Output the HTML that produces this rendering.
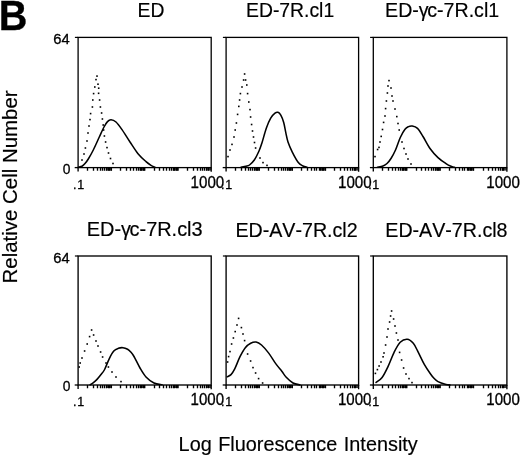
<!DOCTYPE html><html><head><meta charset="utf-8"><title>Figure B</title>
<style>html,body{margin:0;padding:0;background:#fff}svg{display:block}text{font-family:"Liberation Sans",sans-serif;fill:#000;stroke:#000;stroke-width:0.3px}.big{stroke-width:0.18px}</style></head><body>
<svg width="520" height="457" viewBox="0 0 520 457">
<rect width="520" height="457" fill="#fff"/>
<text x="-1.2" y="30.4" font-size="41.6" font-weight="bold" fill="#000" stroke="#000" stroke-width="0.25" textLength="28.6" lengthAdjust="spacingAndGlyphs">B</text>
<text transform="translate(17,283.5) rotate(-90) scale(1.0226,1)" font-size="20" class="big">Relative Cell Number</text>
<text transform="translate(178.60,451.00) scale(0.9455,1)" font-size="21.00" class="big" word-spacing="1.05">Log Fluorescence Intensity</text>
<text transform="translate(137.50,17.40) scale(0.9310,1)" font-size="20.80" class="big" style="font-kerning:none">ED</text>
<text transform="translate(246.00,17.40) scale(0.9310,1)" font-size="20.80" class="big" style="font-kerning:none">ED-7R.cl1</text>
<text transform="translate(385.10,17.40) scale(0.9430,1)" font-size="20.80" class="big" style="font-kerning:none">ED-γ<tspan dx="-1.5">c-7R.cl1</tspan></text>
<text transform="translate(86.70,235.90) scale(0.9590,1)" font-size="20.80" class="big" style="font-kerning:none">ED-γ<tspan dx="-1.5">c-7R.cl3</tspan></text>
<text transform="translate(235.40,236.50) scale(0.9450,1)" font-size="20.80" class="big" style="font-kerning:none">ED-AV-7R.cl2</text>
<text transform="translate(385.30,236.50) scale(0.9450,1)" font-size="20.80" class="big" style="font-kerning:none">ED-AV-7R.cl8</text>
<g stroke="#000" fill="none">
<rect x="78.10" y="37.40" width="133.10" height="130.20" stroke-width="1.30"/>
<rect x="106.30" y="167.60" width="5.58" height="3.0" fill="#000" stroke="none" opacity="0.75"/>
<rect x="139.57" y="167.60" width="5.58" height="3.0" fill="#000" stroke="none" opacity="0.75"/>
<rect x="172.85" y="167.60" width="5.58" height="3.0" fill="#000" stroke="none" opacity="0.75"/>
<rect x="206.12" y="167.60" width="5.08" height="3.0" fill="#000" stroke="none" opacity="0.75"/>
<path d="M78.10 167.60 v4.0M87.50 167.60 v3.2M93.50 167.60 v3.2M97.50 167.60 v3.2M100.50 167.60 v3.2M102.50 167.60 v3.2M104.50 167.60 v3.2M106.50 167.60 v3.2M108.50 167.60 v3.2M109.50 167.60 v3.2M111.38 167.60 v3.2M120.50 167.60 v3.2M126.50 167.60 v3.2M130.50 167.60 v3.2M133.50 167.60 v3.2M136.50 167.60 v3.2M138.50 167.60 v3.2M140.50 167.60 v3.2M141.50 167.60 v3.2M143.50 167.60 v3.2M144.65 167.60 v3.2M154.50 167.60 v3.2M159.50 167.60 v3.2M163.50 167.60 v3.2M166.50 167.60 v3.2M169.50 167.60 v3.2M171.50 167.60 v3.2M173.50 167.60 v3.2M174.50 167.60 v3.2M176.50 167.60 v3.2M177.92 167.60 v3.2M187.50 167.60 v3.2M193.50 167.60 v3.2M197.50 167.60 v3.2M200.50 167.60 v3.2M202.50 167.60 v3.2M204.50 167.60 v3.2M206.50 167.60 v3.2M208.50 167.60 v3.2M211.20 167.60 v4.2" stroke-width="1.35"/>
<path d="M78.10 167.60 h-3.4" stroke-width="1.3"/>
<path d="M78.10 37.40 h-3.2" stroke-width="1.2"/>
<path d="M78.50 167.20 C79.08 167.05 80.92 166.90 82.00 166.30 C83.08 165.70 83.95 164.82 85.00 163.60 C86.05 162.38 86.92 161.27 88.30 159.00 C89.68 156.73 91.47 153.67 93.30 150.00 C95.13 146.33 97.52 140.83 99.30 137.00 C101.08 133.17 102.63 129.57 104.00 127.00 C105.37 124.43 106.33 122.82 107.50 121.60 C108.67 120.38 109.58 119.63 111.00 119.70 C112.42 119.77 114.17 120.35 116.00 122.00 C117.83 123.65 119.67 126.27 122.00 129.60 C124.33 132.93 127.33 137.98 130.00 142.00 C132.67 146.02 135.33 150.43 138.00 153.70 C140.67 156.97 143.83 159.67 146.00 161.60 C148.17 163.53 149.50 164.37 151.00 165.30 C152.50 166.23 154.33 166.88 155.00 167.20" stroke-width="1.55" stroke-linejoin="round" stroke-linecap="round"/>
</g>
<g fill="#000"><rect x="96.20" y="75.30" width="1.6" height="1.6"/><rect x="95.20" y="78.80" width="1.6" height="1.6"/><rect x="94.00" y="86.20" width="1.6" height="1.6"/><rect x="92.80" y="92.80" width="1.6" height="1.6"/><rect x="92.00" y="99.20" width="1.6" height="1.6"/><rect x="91.60" y="106.20" width="1.6" height="1.6"/><rect x="89.80" y="112.80" width="1.6" height="1.6"/><rect x="89.20" y="118.80" width="1.6" height="1.6"/><rect x="88.20" y="125.20" width="1.6" height="1.6"/><rect x="87.20" y="132.20" width="1.6" height="1.6"/><rect x="86.20" y="140.20" width="1.6" height="1.6"/><rect x="84.60" y="147.20" width="1.6" height="1.6"/><rect x="83.20" y="153.20" width="1.6" height="1.6"/><rect x="81.20" y="159.20" width="1.6" height="1.6"/><rect x="97.20" y="83.40" width="1.6" height="1.6"/><rect x="97.90" y="87.40" width="1.6" height="1.6"/><rect x="97.80" y="92.50" width="1.6" height="1.6"/><rect x="98.80" y="99.20" width="1.6" height="1.6"/><rect x="99.60" y="106.20" width="1.6" height="1.6"/><rect x="100.80" y="112.20" width="1.6" height="1.6"/><rect x="101.60" y="118.20" width="1.6" height="1.6"/><rect x="102.40" y="124.20" width="1.6" height="1.6"/><rect x="102.80" y="129.20" width="1.6" height="1.6"/><rect x="103.60" y="135.20" width="1.6" height="1.6"/><rect x="104.80" y="141.20" width="1.6" height="1.6"/><rect x="106.20" y="146.80" width="1.6" height="1.6"/><rect x="107.70" y="152.20" width="1.6" height="1.6"/><rect x="109.70" y="157.70" width="1.6" height="1.6"/><rect x="112.20" y="162.70" width="1.6" height="1.6"/></g>
<text transform="translate(73.10,188.80) scale(1.0000,1)" font-size="12.50" letter-spacing="0.6">.1</text>
<text transform="translate(190.60,188.10) scale(0.9450,1)" font-size="16.00">1000</text>
<text transform="translate(53.30,44.10) scale(0.9600,1)" font-size="15.40">64</text>
<text transform="translate(62.70,173.60) scale(0.9300,1)" font-size="14.90">0</text>
<g stroke="#000" fill="none">
<rect x="226.10" y="37.40" width="132.50" height="130.20" stroke-width="1.30"/>
<rect x="254.17" y="167.60" width="5.56" height="3.0" fill="#000" stroke="none" opacity="0.75"/>
<rect x="287.29" y="167.60" width="5.56" height="3.0" fill="#000" stroke="none" opacity="0.75"/>
<rect x="320.42" y="167.60" width="5.56" height="3.0" fill="#000" stroke="none" opacity="0.75"/>
<rect x="353.54" y="167.60" width="5.06" height="3.0" fill="#000" stroke="none" opacity="0.75"/>
<path d="M226.10 167.60 v4.0M235.50 167.60 v3.2M241.50 167.60 v3.2M245.50 167.60 v3.2M248.50 167.60 v3.2M250.50 167.60 v3.2M252.50 167.60 v3.2M254.50 167.60 v3.2M256.50 167.60 v3.2M257.50 167.60 v3.2M259.23 167.60 v3.2M268.50 167.60 v3.2M274.50 167.60 v3.2M278.50 167.60 v3.2M281.50 167.60 v3.2M283.50 167.60 v3.2M285.50 167.60 v3.2M287.50 167.60 v3.2M289.50 167.60 v3.2M290.50 167.60 v3.2M292.35 167.60 v3.2M301.50 167.60 v3.2M307.50 167.60 v3.2M311.50 167.60 v3.2M314.50 167.60 v3.2M316.50 167.60 v3.2M319.50 167.60 v3.2M320.50 167.60 v3.2M322.50 167.60 v3.2M323.50 167.60 v3.2M325.48 167.60 v3.2M334.50 167.60 v3.2M340.50 167.60 v3.2M344.50 167.60 v3.2M347.50 167.60 v3.2M350.50 167.60 v3.2M352.50 167.60 v3.2M354.50 167.60 v3.2M355.50 167.60 v3.2M358.60 167.60 v4.2" stroke-width="1.35"/>
<path d="M226.10 167.60 h-3.4" stroke-width="1.3"/>
<path d="M226.10 37.40 h-3.2" stroke-width="1.2"/>
<path d="M241.00 167.20 C241.83 167.05 244.58 166.67 246.00 166.30 C247.42 165.93 248.12 166.05 249.50 165.00 C250.88 163.95 252.72 162.33 254.30 160.00 C255.88 157.67 257.72 153.88 259.00 151.00 C260.28 148.12 260.78 146.50 262.00 142.70 C263.22 138.90 264.85 132.30 266.30 128.20 C267.75 124.10 269.25 120.60 270.70 118.10 C272.15 115.60 273.80 114.17 275.00 113.20 C276.20 112.23 276.93 111.97 277.90 112.30 C278.87 112.63 279.83 113.50 280.80 115.20 C281.77 116.90 282.87 119.60 283.70 122.50 C284.53 125.40 285.08 129.35 285.80 132.60 C286.52 135.85 286.92 138.75 288.00 142.00 C289.08 145.25 290.62 148.73 292.30 152.10 C293.98 155.47 296.32 159.88 298.10 162.20 C299.88 164.52 301.52 165.15 303.00 166.00 C304.48 166.85 306.33 167.08 307.00 167.30" stroke-width="1.55" stroke-linejoin="round" stroke-linecap="round"/>
</g>
<g fill="#000"><rect x="243.80" y="73.20" width="1.6" height="1.6"/><rect x="242.80" y="79.20" width="1.6" height="1.6"/><rect x="241.20" y="86.20" width="1.6" height="1.6"/><rect x="239.60" y="92.80" width="1.6" height="1.6"/><rect x="238.80" y="99.20" width="1.6" height="1.6"/><rect x="238.00" y="105.60" width="1.6" height="1.6"/><rect x="236.80" y="113.60" width="1.6" height="1.6"/><rect x="235.60" y="122.20" width="1.6" height="1.6"/><rect x="234.40" y="129.20" width="1.6" height="1.6"/><rect x="233.20" y="136.20" width="1.6" height="1.6"/><rect x="231.20" y="143.60" width="1.6" height="1.6"/><rect x="229.20" y="149.20" width="1.6" height="1.6"/><rect x="227.20" y="155.80" width="1.6" height="1.6"/><rect x="244.80" y="79.20" width="1.6" height="1.6"/><rect x="246.00" y="84.20" width="1.6" height="1.6"/><rect x="246.80" y="92.80" width="1.6" height="1.6"/><rect x="248.00" y="101.20" width="1.6" height="1.6"/><rect x="249.20" y="108.80" width="1.6" height="1.6"/><rect x="249.80" y="116.20" width="1.6" height="1.6"/><rect x="250.80" y="123.70" width="1.6" height="1.6"/><rect x="251.70" y="130.20" width="1.6" height="1.6"/><rect x="252.70" y="136.20" width="1.6" height="1.6"/><rect x="253.70" y="141.70" width="1.6" height="1.6"/><rect x="254.80" y="147.20" width="1.6" height="1.6"/><rect x="259.20" y="157.20" width="1.6" height="1.6"/><rect x="262.20" y="161.80" width="1.6" height="1.6"/><rect x="266.20" y="164.60" width="1.6" height="1.6"/></g>
<text transform="translate(221.10,188.80) scale(1.0000,1)" font-size="12.50" letter-spacing="0.6">.1</text>
<text transform="translate(338.00,188.10) scale(0.9450,1)" font-size="16.00">1000</text>
<g stroke="#000" fill="none">
<rect x="373.30" y="37.40" width="133.60" height="130.20" stroke-width="1.30"/>
<rect x="401.61" y="167.60" width="5.59" height="3.0" fill="#000" stroke="none" opacity="0.75"/>
<rect x="435.01" y="167.60" width="5.59" height="3.0" fill="#000" stroke="none" opacity="0.75"/>
<rect x="468.41" y="167.60" width="5.59" height="3.0" fill="#000" stroke="none" opacity="0.75"/>
<rect x="501.81" y="167.60" width="5.09" height="3.0" fill="#000" stroke="none" opacity="0.75"/>
<path d="M373.30 167.60 v4.0M382.50 167.60 v3.2M388.50 167.60 v3.2M392.50 167.60 v3.2M395.50 167.60 v3.2M398.50 167.60 v3.2M400.50 167.60 v3.2M402.50 167.60 v3.2M403.50 167.60 v3.2M405.50 167.60 v3.2M406.70 167.60 v3.2M416.50 167.60 v3.2M421.50 167.60 v3.2M425.50 167.60 v3.2M428.50 167.60 v3.2M431.50 167.60 v3.2M433.50 167.60 v3.2M435.50 167.60 v3.2M437.50 167.60 v3.2M438.50 167.60 v3.2M440.10 167.60 v3.2M449.50 167.60 v3.2M455.50 167.60 v3.2M459.50 167.60 v3.2M462.50 167.60 v3.2M464.50 167.60 v3.2M467.50 167.60 v3.2M468.50 167.60 v3.2M470.50 167.60 v3.2M471.50 167.60 v3.2M473.50 167.60 v3.2M483.50 167.60 v3.2M488.50 167.60 v3.2M492.50 167.60 v3.2M495.50 167.60 v3.2M498.50 167.60 v3.2M500.50 167.60 v3.2M502.50 167.60 v3.2M503.50 167.60 v3.2M506.90 167.60 v4.2" stroke-width="1.35"/>
<path d="M373.30 167.60 h-3.4" stroke-width="1.3"/>
<path d="M373.30 37.40 h-3.2" stroke-width="1.2"/>
<path d="M377.50 167.20 C378.42 167.00 381.42 166.62 383.00 166.00 C384.58 165.38 385.67 164.75 387.00 163.50 C388.33 162.25 389.58 160.75 391.00 158.50 C392.42 156.25 393.95 153.50 395.50 150.00 C397.05 146.50 398.72 140.95 400.30 137.50 C401.88 134.05 403.63 131.12 405.00 129.30 C406.37 127.48 407.33 127.15 408.50 126.60 C409.67 126.05 410.50 125.70 412.00 126.00 C413.50 126.30 415.67 126.65 417.50 128.40 C419.33 130.15 420.92 133.15 423.00 136.50 C425.08 139.85 427.50 144.98 430.00 148.50 C432.50 152.02 435.33 155.08 438.00 157.60 C440.67 160.12 443.83 162.15 446.00 163.60 C448.17 165.05 449.58 165.68 451.00 166.30 C452.42 166.92 453.92 167.13 454.50 167.30" stroke-width="1.55" stroke-linejoin="round" stroke-linecap="round"/>
</g>
<g fill="#000"><rect x="388.20" y="79.80" width="1.6" height="1.6"/><rect x="387.20" y="85.20" width="1.6" height="1.6"/><rect x="386.60" y="92.20" width="1.6" height="1.6"/><rect x="385.60" y="100.20" width="1.6" height="1.6"/><rect x="384.80" y="107.80" width="1.6" height="1.6"/><rect x="384.20" y="115.20" width="1.6" height="1.6"/><rect x="382.80" y="121.60" width="1.6" height="1.6"/><rect x="381.70" y="128.70" width="1.6" height="1.6"/><rect x="380.40" y="135.60" width="1.6" height="1.6"/><rect x="379.20" y="141.20" width="1.6" height="1.6"/><rect x="378.20" y="146.60" width="1.6" height="1.6"/><rect x="376.80" y="148.70" width="1.6" height="1.6"/><rect x="374.20" y="155.80" width="1.6" height="1.6"/><rect x="390.20" y="87.20" width="1.6" height="1.6"/><rect x="391.20" y="95.20" width="1.6" height="1.6"/><rect x="392.20" y="100.20" width="1.6" height="1.6"/><rect x="394.20" y="108.20" width="1.6" height="1.6"/><rect x="396.00" y="115.80" width="1.6" height="1.6"/><rect x="397.20" y="122.70" width="1.6" height="1.6"/><rect x="398.40" y="129.20" width="1.6" height="1.6"/><rect x="401.20" y="141.20" width="1.6" height="1.6"/><rect x="403.20" y="147.70" width="1.6" height="1.6"/><rect x="405.20" y="153.20" width="1.6" height="1.6"/><rect x="407.20" y="158.20" width="1.6" height="1.6"/><rect x="410.20" y="163.20" width="1.6" height="1.6"/></g>
<text transform="translate(368.30,188.80) scale(1.0000,1)" font-size="12.50" letter-spacing="0.6">.1</text>
<text transform="translate(486.30,188.10) scale(0.9450,1)" font-size="16.00">1000</text>
<g stroke="#000" fill="none">
<rect x="78.10" y="256.00" width="133.10" height="129.00" stroke-width="1.35"/>
<rect x="106.30" y="385.00" width="5.58" height="3.0" fill="#000" stroke="none" opacity="0.75"/>
<rect x="139.57" y="385.00" width="5.58" height="3.0" fill="#000" stroke="none" opacity="0.75"/>
<rect x="172.85" y="385.00" width="5.58" height="3.0" fill="#000" stroke="none" opacity="0.75"/>
<rect x="206.12" y="385.00" width="5.08" height="3.0" fill="#000" stroke="none" opacity="0.75"/>
<path d="M78.10 385.00 v4.0M87.50 385.00 v3.2M93.50 385.00 v3.2M97.50 385.00 v3.2M100.50 385.00 v3.2M102.50 385.00 v3.2M104.50 385.00 v3.2M106.50 385.00 v3.2M108.50 385.00 v3.2M109.50 385.00 v3.2M111.38 385.00 v3.2M120.50 385.00 v3.2M126.50 385.00 v3.2M130.50 385.00 v3.2M133.50 385.00 v3.2M136.50 385.00 v3.2M138.50 385.00 v3.2M140.50 385.00 v3.2M141.50 385.00 v3.2M143.50 385.00 v3.2M144.65 385.00 v3.2M154.50 385.00 v3.2M159.50 385.00 v3.2M163.50 385.00 v3.2M166.50 385.00 v3.2M169.50 385.00 v3.2M171.50 385.00 v3.2M173.50 385.00 v3.2M174.50 385.00 v3.2M176.50 385.00 v3.2M177.92 385.00 v3.2M187.50 385.00 v3.2M193.50 385.00 v3.2M197.50 385.00 v3.2M200.50 385.00 v3.2M202.50 385.00 v3.2M204.50 385.00 v3.2M206.50 385.00 v3.2M208.50 385.00 v3.2M211.20 385.00 v4.2" stroke-width="1.35"/>
<path d="M78.10 385.00 h-3.4" stroke-width="1.3"/>
<path d="M78.10 256.00 h-3.2" stroke-width="1.2"/>
<path d="M90.10 384.80 C90.60 384.48 91.95 383.80 93.10 382.90 C94.25 382.00 95.72 380.75 97.00 379.40 C98.28 378.05 99.53 376.45 100.80 374.80 C102.07 373.15 103.20 372.17 104.60 369.50 C106.00 366.83 107.67 361.87 109.20 358.80 C110.73 355.73 112.27 352.85 113.80 351.10 C115.33 349.35 116.87 348.87 118.40 348.30 C119.93 347.73 121.47 347.53 123.00 347.70 C124.53 347.87 126.32 348.60 127.60 349.30 C128.88 350.00 129.63 350.70 130.70 351.90 C131.77 353.10 132.45 353.82 134.00 356.50 C135.55 359.18 138.00 364.58 140.00 368.00 C142.00 371.42 143.67 374.50 146.00 377.00 C148.33 379.50 151.33 381.70 154.00 383.00 C156.67 384.30 160.67 384.50 162.00 384.80" stroke-width="1.55" stroke-linejoin="round" stroke-linecap="round"/>
</g>
<g fill="#000"><rect x="90.80" y="329.20" width="1.6" height="1.6"/><rect x="88.80" y="335.80" width="1.6" height="1.6"/><rect x="86.40" y="343.20" width="1.6" height="1.6"/><rect x="83.80" y="350.20" width="1.6" height="1.6"/><rect x="81.20" y="357.20" width="1.6" height="1.6"/><rect x="79.40" y="362.20" width="1.6" height="1.6"/><rect x="78.40" y="366.20" width="1.6" height="1.6"/><rect x="92.80" y="334.20" width="1.6" height="1.6"/><rect x="95.20" y="340.20" width="1.6" height="1.6"/><rect x="97.20" y="345.20" width="1.6" height="1.6"/><rect x="99.80" y="351.20" width="1.6" height="1.6"/><rect x="101.80" y="356.20" width="1.6" height="1.6"/><rect x="105.20" y="362.20" width="1.6" height="1.6"/><rect x="107.60" y="366.20" width="1.6" height="1.6"/><rect x="111.20" y="371.20" width="1.6" height="1.6"/><rect x="115.20" y="376.20" width="1.6" height="1.6"/><rect x="120.20" y="380.80" width="1.6" height="1.6"/></g>
<text transform="translate(73.10,405.90) scale(1.0000,1)" font-size="12.50" letter-spacing="0.6">.1</text>
<text transform="translate(190.60,404.90) scale(0.9650,1)" font-size="15.60">1000</text>
<text transform="translate(53.30,262.70) scale(0.9600,1)" font-size="15.40">64</text>
<text transform="translate(62.70,391.00) scale(0.9300,1)" font-size="14.90">0</text>
<g stroke="#000" fill="none">
<rect x="226.10" y="256.00" width="132.50" height="129.00" stroke-width="1.35"/>
<rect x="254.17" y="385.00" width="5.56" height="3.0" fill="#000" stroke="none" opacity="0.75"/>
<rect x="287.29" y="385.00" width="5.56" height="3.0" fill="#000" stroke="none" opacity="0.75"/>
<rect x="320.42" y="385.00" width="5.56" height="3.0" fill="#000" stroke="none" opacity="0.75"/>
<rect x="353.54" y="385.00" width="5.06" height="3.0" fill="#000" stroke="none" opacity="0.75"/>
<path d="M226.10 385.00 v4.0M235.50 385.00 v3.2M241.50 385.00 v3.2M245.50 385.00 v3.2M248.50 385.00 v3.2M250.50 385.00 v3.2M252.50 385.00 v3.2M254.50 385.00 v3.2M256.50 385.00 v3.2M257.50 385.00 v3.2M259.23 385.00 v3.2M268.50 385.00 v3.2M274.50 385.00 v3.2M278.50 385.00 v3.2M281.50 385.00 v3.2M283.50 385.00 v3.2M285.50 385.00 v3.2M287.50 385.00 v3.2M289.50 385.00 v3.2M290.50 385.00 v3.2M292.35 385.00 v3.2M301.50 385.00 v3.2M307.50 385.00 v3.2M311.50 385.00 v3.2M314.50 385.00 v3.2M316.50 385.00 v3.2M319.50 385.00 v3.2M320.50 385.00 v3.2M322.50 385.00 v3.2M323.50 385.00 v3.2M325.48 385.00 v3.2M334.50 385.00 v3.2M340.50 385.00 v3.2M344.50 385.00 v3.2M347.50 385.00 v3.2M350.50 385.00 v3.2M352.50 385.00 v3.2M354.50 385.00 v3.2M355.50 385.00 v3.2M358.60 385.00 v4.2" stroke-width="1.35"/>
<path d="M226.10 385.00 h-3.4" stroke-width="1.3"/>
<path d="M226.10 256.00 h-3.2" stroke-width="1.2"/>
<path d="M227.20 376.80 C227.83 376.43 229.77 375.87 231.00 374.60 C232.23 373.33 233.10 372.18 234.60 369.20 C236.10 366.22 238.22 360.28 240.00 356.70 C241.78 353.12 243.52 349.95 245.30 347.70 C247.08 345.45 248.90 344.15 250.70 343.20 C252.50 342.25 254.30 341.70 256.10 342.00 C257.90 342.30 259.40 343.15 261.50 345.00 C263.60 346.85 266.30 349.95 268.70 353.10 C271.10 356.25 273.68 360.83 275.90 363.90 C278.12 366.97 280.32 369.32 282.00 371.50 C283.68 373.68 284.17 375.08 286.00 377.00 C287.83 378.92 290.67 381.68 293.00 383.00 C295.33 384.32 298.83 384.58 300.00 384.90" stroke-width="1.55" stroke-linejoin="round" stroke-linecap="round"/>
</g>
<g fill="#000"><rect x="237.80" y="317.60" width="1.6" height="1.6"/><rect x="236.20" y="324.20" width="1.6" height="1.6"/><rect x="234.40" y="330.80" width="1.6" height="1.6"/><rect x="232.60" y="337.20" width="1.6" height="1.6"/><rect x="230.80" y="343.20" width="1.6" height="1.6"/><rect x="229.20" y="350.80" width="1.6" height="1.6"/><rect x="227.80" y="355.80" width="1.6" height="1.6"/><rect x="226.80" y="361.20" width="1.6" height="1.6"/><rect x="240.60" y="326.80" width="1.6" height="1.6"/><rect x="242.20" y="333.20" width="1.6" height="1.6"/><rect x="243.80" y="339.80" width="1.6" height="1.6"/><rect x="246.80" y="353.20" width="1.6" height="1.6"/><rect x="249.80" y="360.20" width="1.6" height="1.6"/><rect x="252.20" y="366.80" width="1.6" height="1.6"/><rect x="254.80" y="372.20" width="1.6" height="1.6"/><rect x="257.80" y="377.80" width="1.6" height="1.6"/><rect x="261.80" y="382.20" width="1.6" height="1.6"/></g>
<text transform="translate(221.10,405.90) scale(1.0000,1)" font-size="12.50" letter-spacing="0.6">.1</text>
<text transform="translate(338.00,404.90) scale(0.9650,1)" font-size="15.60">1000</text>
<g stroke="#000" fill="none">
<rect x="373.30" y="256.00" width="133.60" height="129.00" stroke-width="1.35"/>
<rect x="401.61" y="385.00" width="5.59" height="3.0" fill="#000" stroke="none" opacity="0.75"/>
<rect x="435.01" y="385.00" width="5.59" height="3.0" fill="#000" stroke="none" opacity="0.75"/>
<rect x="468.41" y="385.00" width="5.59" height="3.0" fill="#000" stroke="none" opacity="0.75"/>
<rect x="501.81" y="385.00" width="5.09" height="3.0" fill="#000" stroke="none" opacity="0.75"/>
<path d="M373.30 385.00 v4.0M382.50 385.00 v3.2M388.50 385.00 v3.2M392.50 385.00 v3.2M395.50 385.00 v3.2M398.50 385.00 v3.2M400.50 385.00 v3.2M402.50 385.00 v3.2M403.50 385.00 v3.2M405.50 385.00 v3.2M406.70 385.00 v3.2M416.50 385.00 v3.2M421.50 385.00 v3.2M425.50 385.00 v3.2M428.50 385.00 v3.2M431.50 385.00 v3.2M433.50 385.00 v3.2M435.50 385.00 v3.2M437.50 385.00 v3.2M438.50 385.00 v3.2M440.10 385.00 v3.2M449.50 385.00 v3.2M455.50 385.00 v3.2M459.50 385.00 v3.2M462.50 385.00 v3.2M464.50 385.00 v3.2M467.50 385.00 v3.2M468.50 385.00 v3.2M470.50 385.00 v3.2M471.50 385.00 v3.2M473.50 385.00 v3.2M483.50 385.00 v3.2M488.50 385.00 v3.2M492.50 385.00 v3.2M495.50 385.00 v3.2M498.50 385.00 v3.2M500.50 385.00 v3.2M502.50 385.00 v3.2M503.50 385.00 v3.2M506.90 385.00 v4.2" stroke-width="1.35"/>
<path d="M373.30 385.00 h-3.4" stroke-width="1.3"/>
<path d="M373.30 256.00 h-3.2" stroke-width="1.2"/>
<path d="M376.00 382.50 C377.02 381.67 380.08 380.18 382.10 377.50 C384.12 374.82 386.10 370.60 388.10 366.40 C390.10 362.20 392.08 356.32 394.10 352.30 C396.12 348.28 398.02 344.48 400.20 342.30 C402.38 340.12 405.02 339.03 407.20 339.20 C409.38 339.37 411.45 341.12 413.30 343.30 C415.15 345.48 416.47 348.78 418.30 352.30 C420.13 355.82 422.35 360.92 424.30 364.40 C426.25 367.88 428.38 370.88 430.00 373.20 C431.62 375.52 432.67 376.90 434.00 378.30 C435.33 379.70 436.00 380.58 438.00 381.60 C440.00 382.62 444.00 383.85 446.00 384.40 C448.00 384.95 449.33 384.82 450.00 384.90" stroke-width="1.55" stroke-linejoin="round" stroke-linecap="round"/>
</g>
<g fill="#000"><rect x="390.80" y="310.20" width="1.6" height="1.6"/><rect x="389.80" y="315.20" width="1.6" height="1.6"/><rect x="388.80" y="321.20" width="1.6" height="1.6"/><rect x="387.20" y="328.20" width="1.6" height="1.6"/><rect x="386.20" y="336.20" width="1.6" height="1.6"/><rect x="384.80" y="344.20" width="1.6" height="1.6"/><rect x="383.20" y="352.20" width="1.6" height="1.6"/><rect x="382.30" y="356.00" width="1.6" height="1.6"/><rect x="380.20" y="361.20" width="1.6" height="1.6"/><rect x="378.30" y="365.20" width="1.6" height="1.6"/><rect x="376.60" y="368.80" width="1.6" height="1.6"/><rect x="374.60" y="372.60" width="1.6" height="1.6"/><rect x="392.80" y="318.20" width="1.6" height="1.6"/><rect x="394.20" y="325.20" width="1.6" height="1.6"/><rect x="395.60" y="332.20" width="1.6" height="1.6"/><rect x="397.20" y="339.20" width="1.6" height="1.6"/><rect x="398.80" y="351.60" width="1.6" height="1.6"/><rect x="400.80" y="359.20" width="1.6" height="1.6"/><rect x="402.80" y="367.20" width="1.6" height="1.6"/><rect x="405.20" y="373.20" width="1.6" height="1.6"/><rect x="408.20" y="377.80" width="1.6" height="1.6"/><rect x="411.20" y="381.80" width="1.6" height="1.6"/></g>
<text transform="translate(368.30,405.90) scale(1.0000,1)" font-size="12.50" letter-spacing="0.6">.1</text>
<text transform="translate(486.30,404.90) scale(0.9650,1)" font-size="15.60">1000</text>
</svg></body></html>
